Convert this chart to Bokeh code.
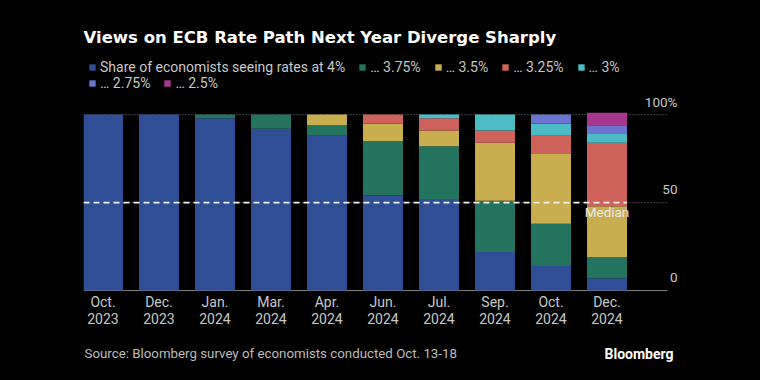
import numpy as np
from bokeh.plotting import figure
from bokeh.layouts import column
from bokeh.models import (ColumnDataSource, Range1d, Legend, LegendItem, Label, LabelSet)
from bokeh.core.properties import value
from bokeh.embed import file_html
from bokeh.resources import INLINE

# ---------------- data ----------------
categories = ["Oct.\n2023", "Dec.\n2023", "Jan.\n2024", "Mar.\n2024", "Apr.\n2024",
              "Jun.\n2024", "Jul.\n2024", "Sep.\n2024", "Oct.\n2024", "Dec.\n2024"]
series_labels = ["Share of economists seeing rates at 4%", "\u2026 3.75%", "\u2026 3.5%",
                 "\u2026 3.25%", "\u2026 3%", "\u2026 2.75%", "\u2026 2.5%"]
rate_400 = [100, 100, 98, 92, 88, 54, 52, 22, 14, 7]
rate_375 = [0, 0, 2, 8, 6, 31, 30, 29, 24, 12]
rate_350 = [0, 0, 0, 0, 6, 10, 9, 33, 40, 29]
rate_325 = [0, 0, 0, 0, 0, 5, 7, 7, 10, 36]
rate_300 = [0, 0, 0, 0, 0, 0, 2, 9, 7, 5]
rate_275 = [0, 0, 0, 0, 0, 0, 0, 0, 5, 5]
rate_250 = [0, 0, 0, 0, 0, 0, 0, 0, 0, 7]
median_value = 50
ytick_values = [0, 50, 100]
ytick_labels = ["0", "50", "100%"]
grid_values = [50, 100]

title_text = "Views on ECB Rate Path Next Year Diverge Sharply"
source_text = "Source: Bloomberg survey of economists conducted Oct. 13-18"
brand_text = "Bloomberg"

# ---------------- style ----------------
colors = ["#2f4e95", "#23735f", "#c9ae50", "#cf635c", "#4bbcc6", "#6b74d0", "#a6388f"]
BG = "#000000"
FONT = "Roboto"
FS = "13.5px"
TXT = "#c8c8c8"

W = 760
H_MAIN, H_FOOT = 343, 37
ML, MR, MB = 83, 79, 52
step_px = 56.0
first_center_px = 19.5
px_per_unit = 1.76
frame_w = W - ML - MR
frame_h = H_MAIN - MB
y_start = -0.5
x_start = -first_center_px / step_px
x_end = x_start + frame_w / step_px
y_end = y_start + frame_h / px_per_unit
grid_end = x_start + 584 / step_px      # where grid lines / baseline stop
label_x = x_start + 594 / step_px       # right edge of y tick labels

keys = ["r400", "r375", "r350", "r325", "r300", "r275", "r250"]
x = list(range(len(categories)))
src = ColumnDataSource(dict(x=x, r400=rate_400, r375=rate_375, r350=rate_350, r325=rate_325,
                            r300=rate_300, r275=rate_275, r250=rate_250))

p = figure(width=W, height=H_MAIN, output_backend="svg", toolbar_location=None,
           x_range=Range1d(x_start, x_end), y_range=Range1d(y_start, y_end),
           min_border_left=ML, min_border_right=MR, min_border_top=0, min_border_bottom=MB,
           background_fill_color=BG, border_fill_color=BG, outline_line_color=None, title=None)
p.grid.visible = False
p.yaxis.visible = False

# dotted grid lines and solid baseline
p.segment(x0=x_start, x1=grid_end, y0=grid_values, y1=grid_values,
          line_color="#7a7a7a", line_dash="1 2", line_width=1)
p.segment(x0=x_start, x1=grid_end, y0=ytick_values[0], y1=ytick_values[0],
          line_color="#8a8a8a", line_width=1)

renderers = p.vbar_stack(keys, x="x", width=0.714, color=colors, source=src, line_color=None)

# median line across bars
p.line(x=[x_start, x[-1] + 0.357], y=[median_value, median_value],
       line_color="#f0f0f0", line_dash="6 4", line_width=1.6)

xa = p.xaxis[0]
xa.ticker = x
xa.major_label_overrides = {i: c for i, c in enumerate(categories)}
xa.axis_line_color = None
xa.major_tick_line_color = None
xa.minor_tick_line_color = None
xa.major_label_text_color = TXT
xa.major_label_text_font = FONT
xa.major_label_text_font_size = "14px"
xa.major_label_text_line_height = 1.12
xa.major_label_standoff = -4

# y tick labels on the right, floated above their lines
ysrc = ColumnDataSource(dict(x=[label_x] * len(ytick_values), y=ytick_values, t=ytick_labels))
p.add_layout(LabelSet(x="x", y="y", text="t", source=ysrc, y_offset=13,
                      text_align="right", text_baseline="middle", text_color=TXT,
                      text_font=value(FONT), text_font_size=FS))

p.add_layout(Label(x=x[-1], y=median_value, y_offset=-9, text="Median", text_align="center",
                   text_baseline="middle", text_color="#e8e8e8", text_font=FONT,
                   text_font_size=FS))

# legends
def make_legend(idx, loc):
    items = [LegendItem(label=series_labels[i], renderers=[renderers[i]]) for i in idx]
    lg = Legend(items=items, orientation="horizontal", location=loc,
                glyph_width=8, glyph_height=8, label_standoff=4, spacing=13,
                padding=0, margin=0, label_height=16,
                label_text_font=FONT, label_text_font_size="14px", label_text_color=TXT,
                background_fill_alpha=0, border_line_alpha=0)
    p.add_layout(lg, "center")

make_legend([0, 1, 2, 3, 4], (5, 216))
make_legend([5, 6], (5, 200))

p.add_layout(Label(x=0, y=254, x_units="screen", y_units="screen", text=title_text,
                   text_font="DejaVu Sans", text_font_style="bold", text_font_size="16.5px",
                   text_color="#ffffff", text_baseline="alphabetic"))

# footer
f = figure(width=W, height=H_FOOT, output_backend="svg", toolbar_location=None,
           x_range=Range1d(0, frame_w), y_range=Range1d(0, H_FOOT),
           min_border_left=ML, min_border_right=MR, min_border_top=0, min_border_bottom=0,
           background_fill_color=BG, border_fill_color=BG, outline_line_color=None, title=None)
f.axis.visible = False
f.grid.visible = False
f.add_layout(Label(x=1, y=27, text=source_text, text_font=FONT, text_font_size="13.3px",
                   text_color="#bbbbbb", text_baseline="middle"))
f.add_layout(Label(x=590, y=27, text=brand_text, text_font=FONT, text_font_style="bold",
                   text_font_size="14px", text_color="#ffffff", text_baseline="middle",
                   text_align="right"))

layout = column(p, f, spacing=0)
html = file_html(layout, INLINE)
html = html.replace("<head>", "<head><style>html,body{background:#000;}</style>", 1)
open("out.html", "w").write(html)
